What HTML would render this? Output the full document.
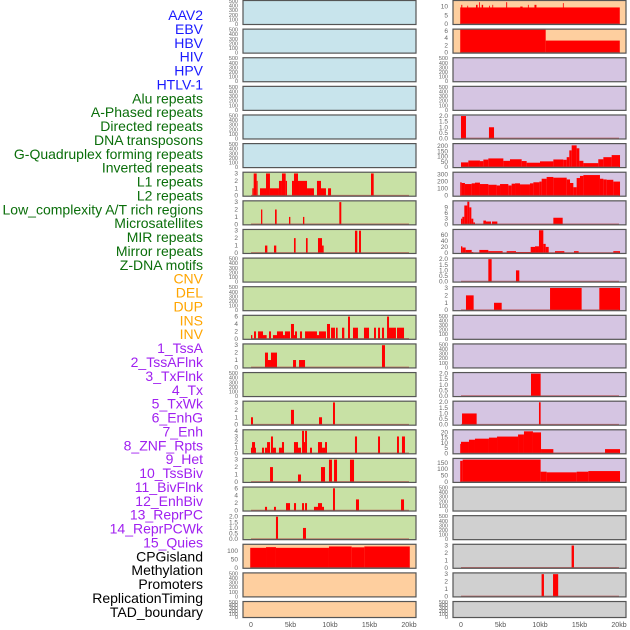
<!DOCTYPE html>
<html><head><meta charset="utf-8">
<style>
html,body{margin:0;padding:0;background:#fff;}
svg{display:block;font-family:"Liberation Sans",sans-serif;}
</style></head>
<body>
<svg id="chart" width="630" height="630" viewBox="0 0 630 630">
<g id="labels" font-size="14" text-anchor="end"></g>
<g id="panels"></g>
<g id="xaxis" font-size="7" fill="#555" text-anchor="middle"></g>
</svg>
<script>
// ---- data ----
const trackLabels = ["AAV2","EBV","HBV","HIV","HPV","HTLV-1","Alu repeats","A-Phased repeats","Directed repeats","DNA transposons","G-Quadruplex forming repeats","Inverted repeats","L1 repeats","L2 repeats","Low_complexity A/T rich regions","Microsatellites","MIR repeats","Mirror repeats","Z-DNA motifs","CNV","DEL","DUP","INS","INV","1_TssA","2_TssAFlnk","3_TxFlnk","4_Tx","5_TxWk","6_EnhG","7_Enh","8_ZNF_Rpts","9_Het","10_TssBiv","11_BivFlnk","12_EnhBiv","13_ReprPC","14_ReprPCWk","15_Quies","CPGisland","Methylation","Promoters","ReplicationTiming","TAD_boundary"];
const labelGroups = ["viral","viral","viral","viral","viral","viral","rep","rep","rep","rep","rep","rep","rep","rep","rep","rep","rep","rep","rep","sv","sv","sv","sv","sv","chr","chr","chr","chr","chr","chr","chr","chr","chr","chr","chr","chr","chr","chr","chr","oth","oth","oth","oth","oth"];
const xTickValues = [0,5,10,15,20];
const xTickLabels = ["0","5kb","10kb","15kb","20kb"];

const ticksEmpty = ["0","100","200","300","400","500"];
const ticks3 = ["0","1","2","3"];
const ticks6 = ["0","2","4","6"];
const ticks4 = ["0","1","2","3","4"];
const ticks2 = ["0.0","0.5","1.0","1.5","2.0"];

// bars: [startKb, endKb, value]
const barsL6 = [[0.17,0.34,1],[0.34,0.72,3],[0.72,0.84,2],[1.14,1.9,1],[1.9,2.4,3],[2.4,3.54,1],[3.54,3.92,2],[3.92,4.39,3],[4.39,4.56,2],[5.19,5.44,2],[5.44,5.95,3],[5.95,6.2,2],[6.2,7.09,2],[7.09,7.97,1],[8.35,8.86,2],[8.86,9.49,1],[9.75,10.13,1],[15.19,15.53,3]];
const barsL7 = [[1.27,1.43,2],[3.04,3.25,2],[4.81,4.98,1],[6.58,6.75,1],[11.18,11.43,3]];
const barsL8 = [[1.77,2.07,1],[2.91,3.2,1],[5.44,5.65,2],[6.96,7.17,2],[8.48,8.99,2],[8.99,9.2,1],[13.16,13.46,3],[13.67,13.92,3]];
const barsL11 = [[0,0.17,1],[0.38,0.63,2],[0.89,1.52,2],[1.52,1.98,1],[2.28,2.53,2],[2.78,3.29,1],[3.29,4.05,2],[4.05,4.3,1],[4.3,4.94,2],[5.06,5.44,4],[5.44,5.57,1],[5.57,5.82,2],[6.2,6.46,2],[6.84,7.34,2],[7.34,8.35,2],[8.35,8.61,1],[8.61,9.49,2],[9.62,10.0,4],[10.13,10.63,3],[10.76,10.97,3],[11.52,11.81,3],[12.28,12.53,6],[12.91,13.54,3],[14.3,14.94,3],[15.57,15.82,3],[16.08,16.33,3],[16.58,16.84,3],[17.22,17.47,6],[17.47,18.35,3],[18.48,19.37,3]];
const barsL12 = [[1.77,2.15,2],[2.15,2.53,1],[2.53,3.29,2],[5.32,5.7,1],[6.08,6.84,1],[16.58,16.96,3]];
const barsL14 = [[0,0.25,1],[5.06,5.44,2],[8.61,8.99,1],[10.38,10.63,3]];
const barsL15 = [[0,0.13,1],[0.13,0.51,2],[0.51,0.63,1],[1.39,1.65,1],[1.77,2.03,1],[2.03,2.41,2],[2.53,2.78,3],[2.78,3.16,1],[3.54,3.92,1],[3.92,4.18,2],[5.44,5.95,2],[5.95,6.33,1],[6.46,6.71,4],[6.71,6.84,2],[6.84,7.09,4],[7.47,7.72,1],[8.48,8.99,2],[8.99,9.37,1],[9.37,9.62,2],[13.16,13.42,3],[16.08,16.33,3],[18.48,18.73,3],[19.11,19.49,3]];
const barsL16 = [[2.41,2.78,2],[5.95,6.33,1],[8.86,9.37,2],[9.87,10.25,3],[10.51,10.89,3],[12.53,13.04,3]];
const barsL17 = [[1.77,2.03,1],[2.91,3.16,1],[4.43,4.94,2],[5.44,5.7,2],[6.46,6.71,2],[6.84,7.09,2],[7.97,8.48,1],[8.48,8.99,2],[8.99,9.24,1],[10.38,10.63,6],[13.29,13.67,3],[18.99,19.37,3]];
const barsL18 = [[3.16,3.42,2],[6.58,6.96,1]];
const barsL19 = [[-0.1,1.9,118],[1.9,3.16,122],[3.16,9.87,118],[9.87,12.74,126],[12.74,14.35,121],[14.35,20.1,126]];
const barsR0 = [[-0.1,20.1,9.5],[0.04,0.16,11],[0.8,0.9,10.5],[1.9,2.1,11],[2.28,2.38,12.5],[2.62,2.8,11],[3.55,3.65,10.5],[3.97,4.07,11],[5.72,5.84,12.5],[7.5,7.8,10],[8.47,8.57,11],[9.3,9.55,11],[12.9,13.0,12]];
const barsR1 = [[-0.1,10.72,6.4],[10.72,20.1,3.35]];
const barsR4 = [[0,0.63,2],[3.54,4.18,1]];
const barsR5 = [[0,0.93,45],[0.93,2.4,63],[2.4,2.83,57],[2.83,3.46,72],[3.46,5.36,83],[5.36,6.2,60],[6.2,7.68,75],[7.68,8.31,58],[8.31,10,42],[10,11.69,55],[11.69,12.95,73],[12.95,13.38,70],[13.38,13.71,95],[13.71,14.01,160],[14.01,14.64,208],[14.64,14.98,180],[14.98,15.49,60],[15.49,17.38,38],[17.38,18.02,75],[18.02,19.07,95],[19.07,20.13,115]];
const barsR6 = [[-0.1,0.08,190],[0.08,0.5,180],[0.5,1.35,165],[1.35,1.77,175],[1.77,2.4,185],[2.4,3.46,165],[3.46,4.51,155],[4.51,4.94,145],[4.94,5.99,165],[5.99,6.41,145],[6.41,6.84,170],[6.84,7.47,175],[7.47,8.73,160],[8.73,9.16,175],[9.16,9.92,190],[9.92,10.21,200],[10.21,10.84,240],[10.84,11.69,265],[11.69,13.38,255],[13.38,13.8,230],[13.8,14.22,180],[14.22,14.64,120],[14.64,15.06,250],[15.06,15.49,280],[15.49,17.59,292],[17.59,18.02,240],[18.02,18.44,230],[18.44,19.28,225],[19.28,20.13,200]];
const barsR7 = [[0,0.17,3],[0.17,0.42,4],[0.42,0.8,10],[0.8,1.05,12],[1.05,1.31,9],[1.31,1.56,3],[1.56,1.77,1],[2.83,3.16,2],[3.16,3.8,1.5],[3.92,4.6,1.5],[11.69,12.87,3.5]];
const barsR8 = [[0,0.17,22],[0.17,0.59,18],[0.59,1.35,10],[1.35,1.56,3],[2.32,3.46,10],[3.46,5.27,6],[5.78,6.96,6],[6.96,8.82,3],[8.82,9.37,20],[9.37,9.87,22],[9.87,10.42,75],[10.42,10.72,30],[10.72,11.1,20],[11.9,13.08,6],[14.3,14.89,6],[19.28,20.13,6]];
const barsR9 = [[3.46,3.88,2],[6.96,7.38,1]];
const barsR10 = [[0.63,1.6,2],[4.18,5.15,1],[11.27,15.27,3],[17.51,20.13,3]];
const barsR13 = [[8.86,10.08,2]];
const barsR14 = [[0.13,1.98,1],[9.87,10.08,2]];
const barsR15 = [[-0.1,0,9],[0,1.01,11],[1.01,1.77,13],[1.77,3.54,14],[3.54,4.56,15],[4.56,7.22,16],[7.22,7.97,18],[7.97,9.11,21],[9.11,10.13,20],[10.13,11.69,4],[11.69,18.23,0.5],[18.23,20.13,4]];
const barsR16 = [[-0.1,0.21,165],[0.21,10.08,175],[10.08,10.84,80],[10.84,14.64,75],[14.64,16.12,80],[16.12,20.13,85]];
const barsR19 = [[14.0,14.3,3]];
const barsR20 = [[10.2,10.5,3],[11.65,12.3,3]];

// panel specs: [col, row, background, ymax, ticks, bars]
const panelSpecs = [
 [0,0,"blue",500,ticksEmpty,null],[0,1,"blue",500,ticksEmpty,null],[0,2,"blue",500,ticksEmpty,null],
 [0,3,"blue",500,ticksEmpty,null],[0,4,"blue",500,ticksEmpty,null],[0,5,"blue",500,ticksEmpty,null],
 [0,6,"green",3.1,ticks3,barsL6],[0,7,"green",3.1,ticks3,barsL7],[0,8,"green",3.1,ticks3,barsL8],
 [0,9,"green",500,ticksEmpty,null],[0,10,"green",500,ticksEmpty,null],
 [0,11,"green",6.2,ticks6,barsL11],[0,12,"green",3.1,ticks3,barsL12],[0,13,"green",500,ticksEmpty,null],
 [0,14,"green",3.1,ticks3,barsL14],[0,15,"green",4.1,ticks4,barsL15],[0,16,"green",3.1,ticks3,barsL16],
 [0,17,"green",6.2,ticks6,barsL17],[0,18,"green",2.05,ticks2,barsL18],
 [0,19,"orange",136,["0","50","100"],barsL19],[0,20,"orange",500,ticksEmpty,null],[0,21,"orange",500,ticksEmpty,null],
 [1,0,"orange",13.2,["0","5","10"],barsR0],[1,1,"orange",6.4,ticks6,barsR1],
 [1,2,"purple",500,ticksEmpty,null],[1,3,"purple",500,ticksEmpty,null],
 [1,4,"purple",2.05,ticks2,barsR4],[1,5,"purple",220,["0","50","100","150","200"],barsR5],
 [1,6,"purple",325,["0","100","200","300"],barsR6],[1,7,"purple",12.2,["0","3","6","9"],barsR7],
 [1,8,"purple",76,["0","20","40","60"],barsR8],[1,9,"purple",2.05,ticks2,barsR9],
 [1,10,"purple",3.1,ticks3,barsR10],[1,11,"purple",500,ticksEmpty,null],[1,12,"purple",500,ticksEmpty,null],
 [1,13,"purple",2.05,ticks2,barsR13],[1,14,"purple",2.05,ticks2,barsR14],
 [1,15,"purple",22,["0","5","10","15","20"],barsR15],[1,16,"purple",180,["0","50","100","150"],barsR16],
 [1,17,"grey",500,ticksEmpty,null],[1,18,"grey",500,ticksEmpty,null],
 [1,19,"grey",3.1,ticks3,barsR19],[1,20,"grey",3.1,ticks3,barsR20],[1,21,"grey",500,ticksEmpty,null]
];

// ---- rendering ----
const NS = "http://www.w3.org/2000/svg";
const bgColors = {blue:"#c8e4ec",green:"#c8e1a5",orange:"#fecf9f",purple:"#d5c5e2",grey:"#d0d0d0"};
const groupColors = {viral:"#1a1aff",rep:"#0a6e0a",sv:"#ffa500",chr:"#a020f0",oth:"#000"};
const colLeft = [243,453], colRight = [416,626], colZero = [251,461], pxPerKb = 7.9;
function xScale(col, kb){ return colZero[col] + kb*pxPerKb; }
function panelTop(row){ return 0.5 + row*28.62; }
function panelH(row){ return row===21 ? 16 : 24; }
function yScale(row, ymax, v){ const t=panelTop(row), h=panelH(row); return t + h - 0.5 - (v/ymax)*(h-1); }
function mk(tag, attrs, parent){ const e=document.createElementNS(NS,tag); for(const k in attrs) e.setAttribute(k,attrs[k]); parent.appendChild(e); return e; }

const labG = document.getElementById("labels");
trackLabels.forEach((t,i)=>{
  const e = mk("text",{x:203,y:20+i*13.88,fill:groupColors[labelGroups[i]]},labG);
  e.textContent = t;
  
  
});

const pG = document.getElementById("panels");
panelSpecs.forEach(spec=>{
  const [col,row,bg,ymax,ticks,bars] = spec;
  const g = mk("g",{},pG);
  
  
  const top = panelTop(row), h = panelH(row);
  const rect = mk("rect",{x:colLeft[col],y:top,width:colRight[col]-colLeft[col],height:h,fill:bgColors[bg]},g);
  
  
  ticks.forEach((lab)=>{
    const v = parseFloat(lab);
    const ty = yScale(row, ymax, v);
    const t = mk("text",{x:colLeft[col]-5,y:ty+2,"font-size":ticks===ticksEmpty?5.5:6.5,fill:"#666","text-anchor":"end"},g);
    t.textContent = lab;
    
    
  });
  if(bars){
    bars.forEach(b=>{
      const x0 = xScale(col,b[0]), x1 = xScale(col,b[1]);
      const y = yScale(row,ymax,b[2]), y0 = yScale(row,ymax,0);
      const r = mk("rect",{x:x0,y:y,width:Math.max(0.8,x1-x0),height:Math.max(0,y0-y),fill:"#ff0000"},g);
      
      
    });
    const bl = mk("line",{x1:xScale(col,0),x2:xScale(col,20),y1:yScale(row,ymax,0)-0.3,y2:yScale(row,ymax,0)-0.3,stroke:"#b04040","stroke-width":1,"stroke-opacity":0.7},g);
    
    
  }
  const br = mk("rect",{x:colLeft[col],y:top,width:colRight[col]-colLeft[col],height:h,fill:"none",stroke:"#555","stroke-width":1.2},g);
  
  
});

const xG = document.getElementById("xaxis");
[0,1].forEach(col=>{
  xTickValues.forEach((v,i)=>{
    const t = mk("text",{x:xScale(col,v),y:627},xG);
    t.textContent = xTickLabels[i];
    
    
  });
});
</script>
</body></html>
